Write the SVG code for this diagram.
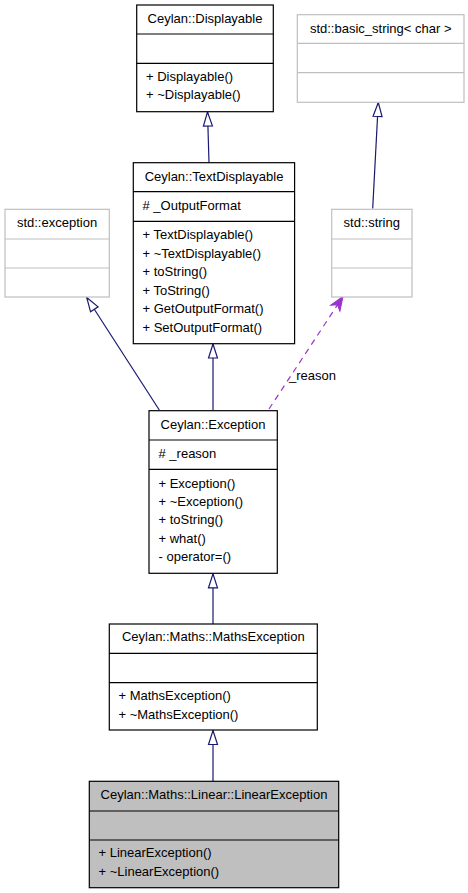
<svg xmlns="http://www.w3.org/2000/svg" width="468" height="893" viewBox="0 0 468 893">
<style>
text{font-family:"Liberation Sans",Arial,sans-serif;font-size:13px;fill:#000}
.t{text-anchor:middle}
.box{fill:#fff;stroke:#000;stroke-width:1.2}
.sel{fill:#bfbfbf;stroke:#000;stroke-width:1.2}
.ext{fill:#fff;stroke:#bfbfbf;stroke-width:1.2}
.dv{stroke:#000;stroke-width:1.2}
.dvg{stroke:#bfbfbf;stroke-width:1.2}
.inh{fill:none;stroke:#191970;stroke-width:1.2;marker-end:url(#tri)}
.use{fill:none;stroke:#9a32cd;stroke-width:1.2;stroke-dasharray:6,5;marker-end:url(#vee)}
</style>
<defs>
<marker id="tri" viewBox="-1 -6 16 12" markerWidth="16" markerHeight="12" refX="14" refY="0" markerUnits="userSpaceOnUse" orient="auto">
<path d="M0,-4.5 L14,0 L0,4.5 Z" fill="#fff" stroke="#191970" stroke-width="1.2"/>
</marker>
<marker id="vee" viewBox="-1 -7 17 14" markerWidth="17" markerHeight="14" refX="14" refY="0" markerUnits="userSpaceOnUse" orient="auto">
<path d="M0,-5.5 L14,0 L0,5.5 L4,0 Z" fill="#9a32cd" stroke="#9a32cd" stroke-width="1"/>
</marker>
</defs>
<g id="edges">
<path class="inh" d="M209,162.7 L207.5,112"/>
<path class="inh" d="M372.7,208.5 L378.3,102.5"/>
<path class="inh" d="M159.3,410 L86.7,297.5"/>
<path class="inh" d="M213,410 L213,344"/>
<path class="use" d="M269,409 L343,296.5"/>
<text x="289" y="380">_reason</text>
<path class="inh" d="M213,624 L213,573.8"/>
<path class="inh" d="M213,781 L213,730.5"/>
</g>
<g id="node-displayable">
<rect class="box" x="136.7" y="5" width="136.6" height="106.7"/>
<line class="dv" x1="136.7" y1="34" x2="273.3" y2="34"/>
<line class="dv" x1="136.7" y1="63.3" x2="273.3" y2="63.3"/>
<text class="t" x="205" y="23">Ceylan::Displayable</text>
<text x="146" y="80.5">+ Displayable()</text>
<text x="146" y="99">+ ~Displayable()</text>
</g>
<g id="node-basic-string">
<rect class="ext" x="297.3" y="14.7" width="166.7" height="87.6"/>
<line class="dvg" x1="297.3" y1="43.3" x2="464" y2="43.3"/>
<line class="dvg" x1="297.3" y1="72.7" x2="464" y2="72.7"/>
<text class="t" x="380.7" y="32.5">std::basic_string&lt; char &gt;</text>
</g>
<g id="node-textdisplayable">
<rect class="box" x="133.3" y="162.7" width="161.3" height="181"/>
<line class="dv" x1="133.3" y1="191.7" x2="294.6" y2="191.7"/>
<line class="dv" x1="133.3" y1="221.3" x2="294.6" y2="221.3"/>
<text class="t" x="214" y="180.5">Ceylan::TextDisplayable</text>
<text x="142.5" y="209.5"># _OutputFormat</text>
<text x="142.5" y="239">+ TextDisplayable()</text>
<text x="142.5" y="257.5">+ ~TextDisplayable()</text>
<text x="142.5" y="276">+ toString()</text>
<text x="142.5" y="294.5">+ ToString()</text>
<text x="142.5" y="313">+ GetOutputFormat()</text>
<text x="142.5" y="331.5">+ SetOutputFormat()</text>
</g>
<g id="node-std-exception">
<rect class="ext" x="5" y="209.3" width="104.3" height="87.7"/>
<line class="dvg" x1="5" y1="239" x2="109.3" y2="239"/>
<line class="dvg" x1="5" y1="268" x2="109.3" y2="268"/>
<text class="t" x="57" y="227">std::exception</text>
</g>
<g id="node-std-string">
<rect class="ext" x="331.7" y="209.3" width="80.3" height="87.7"/>
<line class="dvg" x1="331.7" y1="239" x2="412" y2="239"/>
<line class="dvg" x1="331.7" y1="268" x2="412" y2="268"/>
<text class="t" x="371.8" y="227">std::string</text>
</g>
<g id="node-exception">
<rect class="box" x="149" y="410.7" width="128.3" height="162.6"/>
<line class="dv" x1="149" y1="440" x2="277.3" y2="440"/>
<line class="dv" x1="149" y1="469.3" x2="277.3" y2="469.3"/>
<text class="t" x="213" y="428.5">Ceylan::Exception</text>
<text x="158.5" y="457.5"># _reason</text>
<text x="158.5" y="487.5">+ Exception()</text>
<text x="158.5" y="505.5">+ ~Exception()</text>
<text x="158.5" y="524">+ toString()</text>
<text x="158.5" y="542.5">+ what()</text>
<text x="158.5" y="561">- operator=()</text>
</g>
<g id="node-mathsexception">
<rect class="box" x="109.3" y="624" width="208" height="106"/>
<line class="dv" x1="109.3" y1="653.3" x2="317.3" y2="653.3"/>
<line class="dv" x1="109.3" y1="682.7" x2="317.3" y2="682.7"/>
<text class="t" x="213.3" y="641">Ceylan::Maths::MathsException</text>
<text x="118.5" y="700">+ MathsException()</text>
<text x="118.5" y="719">+ ~MathsException()</text>
</g>
<g id="node-linearexception">
<rect class="sel" x="89.3" y="781.3" width="249.4" height="106.4"/>
<line class="dv" x1="89.3" y1="811" x2="338.7" y2="811"/>
<line class="dv" x1="89.3" y1="840" x2="338.7" y2="840"/>
<text class="t" x="214" y="799">Ceylan::Maths::Linear::LinearException</text>
<text x="98.5" y="857">+ LinearException()</text>
<text x="98.5" y="875.5">+ ~LinearException()</text>
</g>
</svg>
